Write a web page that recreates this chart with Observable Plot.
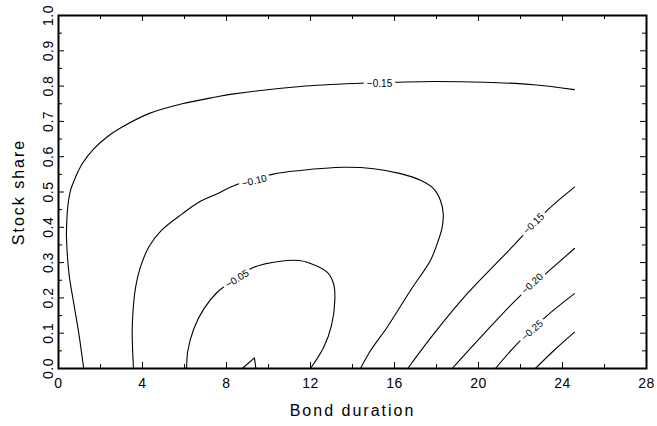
<!DOCTYPE html>
<html>
<head>
<meta charset="utf-8">
<script src="https://cdn.jsdelivr.net/npm/d3@7"></script>
<script src="https://cdn.jsdelivr.net/npm/@observablehq/plot@0.6"></script>
<style>
  html, body { margin: 0; padding: 0; background: #fff; }
  #chart svg { display: block; }
</style>
</head>
<body>
<div id="chart"></div>
<script>
// ---- Data ----
const xLabel = "Bond duration";
const yLabel = "Stock share";

const xMajorTicks = [0, 4, 8, 12, 16, 20, 24, 28];
const xMinorTicks = [2, 6, 10, 14, 18, 22, 26];
const yMajorTicks = [0, 0.1, 0.2, 0.3, 0.4, 0.5, 0.6, 0.7, 0.8, 0.9, 1.0];
const yMinorTicks = [0.05, 0.15, 0.25, 0.35, 0.45, 0.55, 0.65, 0.75, 0.85, 0.95];

// contour level -0.15 (outer, wrapping left/top)
const contourOuter015 = [
  [1.2, 0], [0.97, 0.098], [0.73, 0.183], [0.52, 0.259], [0.44, 0.306],
  [0.38, 0.372], [0.38, 0.391], [0.44, 0.457], [0.57, 0.504], [0.81, 0.542],
  [1.13, 0.580], [1.68, 0.622], [2.40, 0.660], [3.03, 0.684], [4.30, 0.722],
  [5.89, 0.750], [7.48, 0.769], [8.35, 0.778], [11.52, 0.799], [14.38, 0.808],
  [16.13, 0.811], [17.87, 0.813], [20.25, 0.811], [22.63, 0.804], [24.57, 0.790]
];
// contour level -0.10
const contour010 = [
  [3.57, 0], [3.51, 0.098], [3.54, 0.155], [3.67, 0.230], [3.90, 0.287],
  [4.30, 0.344], [4.90, 0.391], [5.89, 0.438], [6.68, 0.471],
  [7.56, 0.495], [8.43, 0.520], [10.18, 0.550], [11.52, 0.561], [13.59, 0.570],
  [15.01, 0.566], [16.29, 0.552], [17.24, 0.533], [17.87, 0.509], [18.19, 0.476],
  [18.32, 0.438], [18.27, 0.400], [18.03, 0.353], [17.71, 0.306], [16.76, 0.221],
  [15.65, 0.117], [14.86, 0.051], [14.38, 0]
];
// contour level -0.05
const contour005 = [
  [6.10, 0], [6.16, 0.051], [6.44, 0.112], [6.92, 0.169], [7.56, 0.216],
  [8.43, 0.254], [9.30, 0.287], [10.57, 0.304], [11.44, 0.306], [11.84, 0.301],
  [12.79, 0.273], [13.10, 0.240], [13.16, 0.195], [13.0, 0.122], [12.63, 0.060],
  [12.0, 0]
];
// contour level 0.00 (small peak)
const contour000 = [[8.75, 0], [9.33, 0.030], [9.40, 0]];
// diagonal contours at lower right
const contourDiag015 = [[16.63, 0], [17.87, 0.098], [19.46, 0.212], [21.44, 0.334], [23.27, 0.448], [24.57, 0.514]];
const contourDiag020 = [[18.75, 0], [20.25, 0.098], [21.92, 0.202], [23.19, 0.268], [24.57, 0.340]];
const contourDiag025 = [[20.81, 0], [21.84, 0.070], [23.27, 0.150], [24.57, 0.212]];
const contourDiag030 = [[22.71, 0], [23.59, 0.051], [24.57, 0.103]];

// contour labels
const labelText  = ["\u22120.15", "\u22120.10", "\u22120.05", "\u22120.15", "\u22120.20", "\u22120.25"];
const labelX     = [15.29, 9.33, 8.51, 22.63, 22.56, 22.56];
const labelY     = [0.807, 0.531, 0.254, 0.410, 0.240, 0.108];
const labelAngle = [0, -14, -32, -45, -43, -42];

// ---- Build tables ----
const contours = [
  ["outer015", contourOuter015, "catmull-rom"],
  ["c010", contour010, "catmull-rom"],
  ["c005", contour005, "catmull-rom"],
  ["c000", contour000, "linear"],
  ["d015", contourDiag015, "catmull-rom"],
  ["d020", contourDiag020, "catmull-rom"],
  ["d025", contourDiag025, "catmull-rom"],
  ["d030", contourDiag030, "catmull-rom"]
];
const smoothRows = [], linearRows = [];
for (const [id, pts, curve] of contours) {
  for (const [x, y] of pts) (curve === "linear" ? linearRows : smoothRows).push({id, x, y});
}
const labels = labelText.map((t, i) => ({t, x: labelX[i], y: labelY[i], a: labelAngle[i]}));

// ---- Layout ----
const W = 657, H = 426;
const mL = 58, mR = 11, mT = 15, mB = 58;
const pw = W - mL - mR, ph = H - mT - mB;
const majorLen = 6, minorLen = 4;
const font = "Liberation Sans, Arial, sans-serif";

const chart = Plot.plot({
  width: W,
  height: H,
  marginLeft: mL, marginRight: mR, marginTop: mT, marginBottom: mB,
  style: {fontFamily: font, background: "#fff", color: "#000"},
  x: {domain: [0, 28], axis: null},
  y: {domain: [0, 1], axis: null},
  marks: [
    // contour lines
    Plot.line(smoothRows, {x: "x", y: "y", z: "id", stroke: "#000", strokeWidth: 1.1, curve: "catmull-rom"}),
    Plot.line(linearRows, {x: "x", y: "y", z: "id", stroke: "#000", strokeWidth: 1.1, curve: "linear"}),
    // contour labels with white halo to break the line
    Plot.text(labels, {x: "x", y: "y", text: "t", rotate: "a", fontSize: 10, fill: "#000",
      stroke: "#fff", strokeWidth: 7, paintOrder: "stroke", fontFamily: font}),
    // inward ticks: bottom & top
    Plot.tickX(xMajorTicks, {x: d => d, insetTop: ph - majorLen, stroke: "#000"}),
    Plot.tickX(xMinorTicks, {x: d => d, insetTop: ph - minorLen, stroke: "#000"}),
    Plot.tickX(xMajorTicks, {x: d => d, insetBottom: ph - majorLen, stroke: "#000"}),
    Plot.tickX(xMinorTicks, {x: d => d, insetBottom: ph - minorLen, stroke: "#000"}),
    // inward ticks: left & right
    Plot.tickY(yMajorTicks, {y: d => d, insetRight: pw - majorLen, stroke: "#000"}),
    Plot.tickY(yMinorTicks, {y: d => d, insetRight: pw - minorLen, stroke: "#000"}),
    Plot.tickY(yMajorTicks, {y: d => d, insetLeft: pw - majorLen, stroke: "#000"}),
    Plot.tickY(yMinorTicks, {y: d => d, insetLeft: pw - minorLen, stroke: "#000"}),
    // frame
    Plot.frame({stroke: "#000", strokeWidth: 2}),
    // tick labels
    Plot.text(xMajorTicks, {x: d => d, frameAnchor: "bottom", dy: 15, text: d => String(d),
      fontSize: 14, lineAnchor: "middle", fill: "#000"}),
    Plot.text(yMajorTicks, {y: d => d, frameAnchor: "left", dx: -6, rotate: -90,
      text: d => d.toFixed(1), fontSize: 14, lineAnchor: "bottom", textAnchor: "middle", fill: "#000"}),
    // axis titles
    Plot.text([xLabel], {frameAnchor: "bottom", dy: 42, text: d => d, fontSize: 16,
      lineAnchor: "middle", fill: "#000"}),
    Plot.text([yLabel], {frameAnchor: "left", dx: -40, rotate: -90, text: d => d, fontSize: 16,
      lineAnchor: "middle", textAnchor: "middle", fill: "#000"})
  ]
});
d3.select(chart).selectAll("g[font-size='16'] text").style("letter-spacing", "2px");
d3.select(chart).selectAll("g[font-size='14'] text").style("letter-spacing", "0.5px");
document.getElementById("chart").appendChild(chart);
</script>
</body>
</html>
